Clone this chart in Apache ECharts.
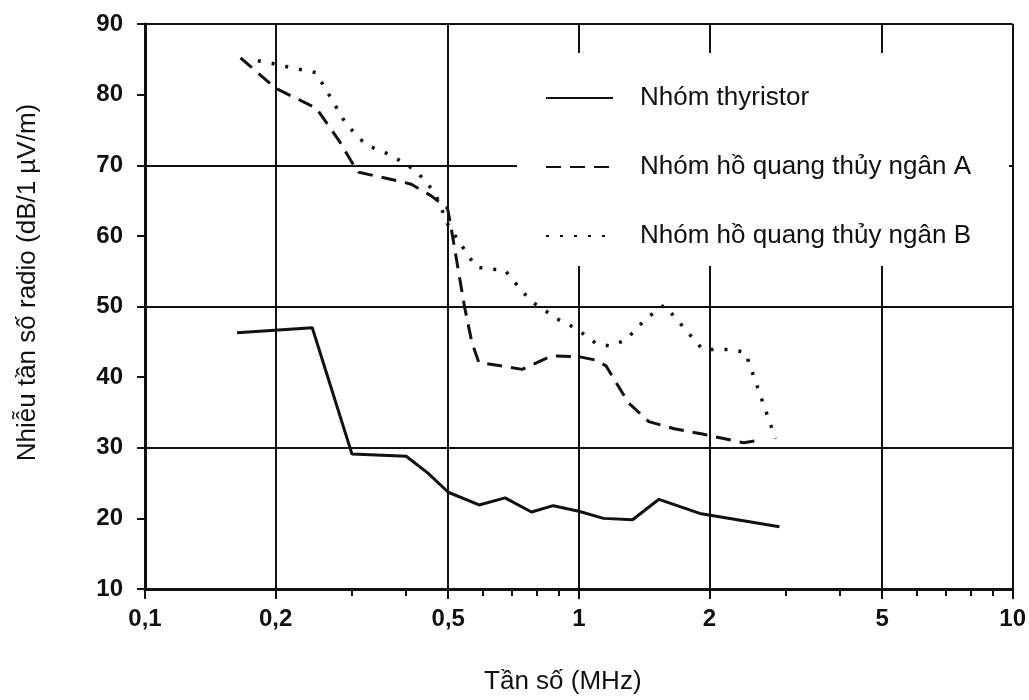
<!DOCTYPE html>
<html>
<head>
<meta charset="utf-8">
<script src="https://cdn.jsdelivr.net/npm/echarts@6/dist/echarts.min.js"></script>
<style>
  html, body { margin: 0; padding: 0; background: #fff; }
  #chart { width: 1029px; height: 700px; }
</style>
</head>
<body>
<div id="chart"></div>
<script>
// Radio-frequency interference of rectifier groups versus frequency (MHz, log scale)
const seriesNames = ['Nhóm thyristor', 'Nhóm hồ quang thủy ngân A', 'Nhóm hồ quang thủy ngân B'];

const thyristorFreq  = [0.163, 0.243, 0.300, 0.400, 0.449, 0.500, 0.589, 0.676, 0.778, 0.873, 1.00, 1.14, 1.33, 1.53, 1.90, 2.90];
const thyristorLevel = [46.3, 47.0, 29.1, 28.8, 26.4, 23.7, 21.9, 22.9, 20.9, 21.8, 21.0, 20.0, 19.8, 22.7, 20.7, 18.8];

const mercuryAFreq  = [0.166, 0.200, 0.248, 0.280, 0.300, 0.311, 0.388, 0.411, 0.456, 0.498, 0.505, 0.545, 0.567, 0.588, 0.740, 0.866, 1.00, 1.095, 1.155, 1.30, 1.45, 1.66, 1.94, 2.40, 2.62];
const mercuryALevel = [85.2, 80.9, 78.1, 73.5, 70.4, 69.0, 67.7, 67.3, 65.7, 63.9, 62.0, 50.0, 44.9, 42.1, 41.1, 43.0, 42.9, 42.4, 41.6, 36.4, 33.7, 32.7, 31.9, 30.7, 31.1];

const mercuryBFreq  = [0.182, 0.197, 0.230, 0.248, 0.259, 0.291, 0.323, 0.370, 0.422, 0.466, 0.500, 0.579, 0.623, 0.674, 0.744, 0.783, 0.900, 0.985, 1.10, 1.186, 1.285, 1.43, 1.575, 1.93, 2.25, 2.42, 2.84];
const mercuryBLevel = [84.8, 84.4, 83.5, 83.1, 81.1, 75.8, 72.9, 71.4, 69.2, 66.1, 61.5, 55.6, 55.3, 55.2, 52.0, 50.6, 48.1, 46.9, 44.7, 44.4, 45.3, 48.3, 50.2, 43.9, 43.9, 43.5, 31.3];

// Axis ticks
const majorFreqTicks = [0.1, 0.2, 0.5, 1, 2, 5, 10];
const minorFreqTicks = [0.3, 0.4, 0.6, 0.7, 0.8, 0.9, 3, 4, 6, 7, 8, 9];
const levelGridLines = [30, 50, 70, 90];

const FONT = '"Liberation Sans", Arial, sans-serif';
const INK = '#111';

function pairs(xs, ys) {
  return xs.map((x, i) => [x, ys[i]]);
}

function freqLabel(v) {
  return String(+Number(v).toPrecision(3)).replace('.', ',');
}

const chart = echarts.init(document.getElementById('chart'), null, { renderer: 'canvas' });

const lineBase = { type: 'line', symbol: 'none', smooth: false, xAxisIndex: 0, yAxisIndex: 0, z: 3 };

chart.setOption({
  backgroundColor: '#fff',
  animation: false,
  textStyle: { fontFamily: FONT, color: INK },
  grid: { left: 145, right: 16, top: 24, bottom: 110, containLabel: false },
  legend: {
    orient: 'vertical',
    left: 517,
    top: 53,
    padding: [32, 38, 17, 28],
    backgroundColor: '#fff',
    itemWidth: 67,
    itemHeight: 14,
    itemGap: 43,
    selectedMode: false,
    itemStyle: { color: 'transparent', borderWidth: 0, opacity: 0 },
    textStyle: { fontFamily: FONT, fontSize: 26, color: INK, lineHeight: 26, padding: [0, 0, 0, 22] },
    data: seriesNames
  },
  xAxis: [
    {
      type: 'log',
      logBase: 10,
      min: 0.1,
      max: 10,
      position: 'bottom',
      name: 'Tần số (MHz)',
      nameLocation: 'middle',
      nameGap: 80,
      nameTextStyle: { fontFamily: FONT, fontSize: 26, color: INK, padding: [0, 32, 0, 0] },
      axisLine: { show: true, lineStyle: { color: INK, width: 3 } },
      axisTick: { show: true, inside: false, length: 10, customValues: majorFreqTicks, lineStyle: { color: INK, width: 2 } },
      axisLabel: {
        customValues: majorFreqTicks,
        margin: 18,
        fontFamily: FONT, fontSize: 24, fontWeight: 'bold', color: INK,
        formatter: freqLabel
      },
      splitLine: { show: true, lineStyle: { color: INK, width: 2 } },
      minorTick: { show: false },
      minorSplitLine: { show: false }
    },
    {
      type: 'log',
      logBase: 10,
      min: 0.1,
      max: 10,
      position: 'bottom',
      axisLine: { show: false },
      axisTick: { show: true, inside: false, length: 7, customValues: minorFreqTicks, lineStyle: { color: INK, width: 2 } },
      axisLabel: { show: false },
      splitLine: { show: false }
    }
  ],
  yAxis: [
    {
      type: 'value',
      min: 10,
      max: 90,
      interval: 10,
      position: 'left',
      name: 'Nhiễu tần số radio (dB/1 µV/m)',
      nameLocation: 'middle',
      nameRotate: 90,
      nameGap: 104,
      nameTextStyle: { fontFamily: FONT, fontSize: 26, color: INK, padding: [0, 0, 0, 48] },
      axisLine: { show: true, lineStyle: { color: INK, width: 3 } },
      axisTick: { show: true, inside: false, length: 8, lineStyle: { color: INK, width: 2 } },
      axisLabel: { margin: 22, fontFamily: FONT, fontSize: 24, fontWeight: 'bold', color: INK },
      splitLine: { show: false }
    },
    {
      type: 'value',
      min: 10,
      max: 90,
      position: 'left',
      axisLine: { show: false },
      axisTick: { show: false, customValues: levelGridLines },
      axisLabel: { show: false, customValues: levelGridLines },
      splitLine: { show: true, lineStyle: { color: INK, width: 2 } }
    }
  ],
  series: [
    Object.assign({}, lineBase, {
      name: seriesNames[0],
      data: pairs(thyristorFreq, thyristorLevel),
      lineStyle: { color: INK, width: 3, type: 'solid' },
      itemStyle: { color: INK }
    }),
    Object.assign({}, lineBase, {
      name: seriesNames[1],
      data: pairs(mercuryAFreq, mercuryALevel),
      lineStyle: { color: INK, width: 3, type: [15, 9] },
      itemStyle: { color: INK }
    }),
    Object.assign({}, lineBase, {
      name: seriesNames[2],
      data: pairs(mercuryBFreq, mercuryBLevel),
      lineStyle: { color: INK, width: 3.5, type: [3, 11] },
      itemStyle: { color: INK }
    })
  ]
});
</script>
</body>
</html>
